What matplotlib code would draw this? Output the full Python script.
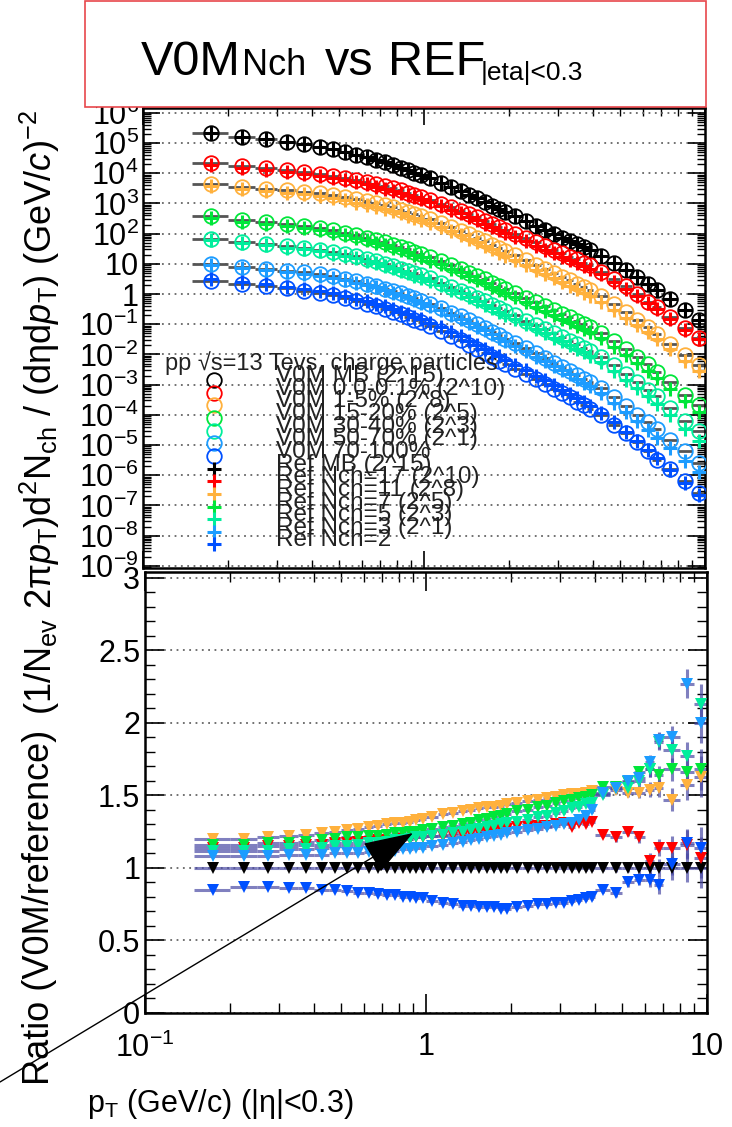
import numpy as np
import matplotlib
matplotlib.use('Agg')
import matplotlib.pyplot as plt
from matplotlib.patches import Rectangle, FancyArrowPatch
from matplotlib.ticker import LogLocator, NullFormatter, MultipleLocator

plt.rcParams['font.family'] = ['Liberation Sans', 'DejaVu Sans']
plt.rcParams['mathtext.fontset'] = 'custom'
plt.rcParams['mathtext.rm'] = 'Liberation Sans'
plt.rcParams['mathtext.it'] = 'Liberation Sans:italic'
plt.rcParams['mathtext.bf'] = 'Liberation Sans:bold'

# pT binning (GeV/c)
pt_edges = [0.15, 0.2, 0.25, 0.3, 0.35, 0.4, 0.45, 0.5, 0.55, 0.6, 0.65, 0.7, 0.75, 0.8,
            0.85, 0.9, 0.95, 1.0, 1.1, 1.2, 1.3, 1.4, 1.5, 1.6, 1.7, 1.8, 1.9, 2.0, 2.2,
            2.4, 2.6, 2.8, 3.0, 3.2, 3.4, 3.6, 3.8, 4.0, 4.5, 5.0, 5.5, 6.0, 6.5, 7.0,
            8.0, 9.0, 10.0]

# reference spectra, log10 of the scaled yield as drawn
ref_mb = [5.33, 5.21, 5.12, 5.04, 4.96, 4.88, 4.80, 4.71, 4.62, 4.53, 4.45, 4.36, 4.28, 4.19,
          4.11, 4.02, 3.94, 3.83, 3.69, 3.55, 3.42, 3.29, 3.17, 3.05, 2.93, 2.82, 2.71, 2.57,
          2.41, 2.26, 2.12, 1.99, 1.87, 1.76, 1.65, 1.55, 1.45, 1.27, 1.02, 0.78, 0.55, 0.33,
          0.12, -0.18, -0.54, -0.85]
ref_17 = [4.27, 4.17, 4.10, 4.04, 3.98, 3.91, 3.85, 3.77, 3.70, 3.63, 3.56, 3.49, 3.42, 3.35,
          3.28, 3.20, 3.14, 3.04, 2.91, 2.79, 2.67, 2.55, 2.44, 2.33, 2.22, 2.12, 2.02, 1.89,
          1.74, 1.60, 1.47, 1.35, 1.24, 1.13, 1.03, 0.93, 0.83, 0.65, 0.40, 0.16, -0.07, -0.29,
          -0.50, -0.81, -1.18, -1.50]
ref_11 = [3.57, 3.48, 3.41, 3.36, 3.30, 3.24, 3.18, 3.11, 3.03, 2.96, 2.89, 2.82, 2.75, 2.67,
          2.60, 2.52, 2.45, 2.35, 2.22, 2.08, 1.96, 1.83, 1.71, 1.60, 1.48, 1.37, 1.26, 1.12,
          0.96, 0.80, 0.66, 0.52, 0.40, 0.28, 0.16, 0.05, -0.06, -0.25, -0.52, -0.78, -1.03,
          -1.27, -1.50, -1.83, -2.22, -2.55]
ref_7 = [2.51, 2.40, 2.32, 2.25, 2.18, 2.11, 2.03, 1.95, 1.86, 1.78, 1.70, 1.62, 1.54, 1.46,
         1.38, 1.30, 1.22, 1.11, 0.98, 0.84, 0.72, 0.59, 0.47, 0.36, 0.24, 0.13, 0.03, -0.11,
         -0.27, -0.42, -0.56, -0.69, -0.81, -0.93, -1.05, -1.16, -1.27, -1.47, -1.75, -2.02,
         -2.29, -2.55, -2.79, -3.14, -3.55, -3.91]
ref_5 = [1.78, 1.68, 1.61, 1.54, 1.48, 1.41, 1.34, 1.26, 1.18, 1.09, 1.02, 0.93, 0.86, 0.77,
         0.70, 0.61, 0.54, 0.43, 0.29, 0.15, 0.02, -0.11, -0.23, -0.35, -0.47, -0.58, -0.69,
         -0.83, -1.00, -1.15, -1.30, -1.44, -1.57, -1.69, -1.81, -1.93, -2.04, -2.25, -2.55,
         -2.84, -3.12, -3.39, -3.65, -4.02, -4.46, -4.85]
ref_3 = [0.95, 0.86, 0.80, 0.74, 0.68, 0.61, 0.54, 0.46, 0.38, 0.29, 0.22, 0.13, 0.05, -0.03,
         -0.11, -0.20, -0.28, -0.39, -0.53, -0.68, -0.81, -0.95, -1.08, -1.20, -1.33, -1.45,
         -1.57, -1.72, -1.90, -2.07, -2.23, -2.38, -2.53, -2.66, -2.80, -2.93, -3.06, -3.29,
         -3.61, -3.92, -4.21, -4.49, -4.75, -5.11, -5.54, -5.90]
ref_2 = [0.51, 0.40, 0.32, 0.25, 0.18, 0.10, 0.03, -0.06, -0.15, -0.24, -0.32, -0.41, -0.49,
         -0.58, -0.66, -0.75, -0.83, -0.95, -1.10, -1.25, -1.40, -1.54, -1.68, -1.81, -1.94,
         -2.06, -2.18, -2.34, -2.52, -2.70, -2.86, -3.02, -3.17, -3.31, -3.45, -3.58, -3.70,
         -3.93, -4.25, -4.57, -4.87, -5.16, -5.43, -5.82, -6.27, -6.65]

# ratios V0M / reference
ratio_mb = [1.0] * 46
ratio_17 = [1.14, 1.14, 1.15, 1.15, 1.16, 1.16, 1.17, 1.17, 1.18, 1.18, 1.19, 1.19, 1.19, 1.20,
            1.20, 1.21, 1.21, 1.22, 1.22, 1.23, 1.23, 1.24, 1.25, 1.25, 1.26, 1.27, 1.27, 1.28,
            1.28, 1.29, 1.29, 1.30, 1.31, 1.28, 1.31, 1.30, 1.32, 1.23, 1.21, 1.25, 1.21, 1.05,
            1.14, 1.14, 1.16, 1.07]
ratio_11 = [1.20, 1.20, 1.21, 1.22, 1.23, 1.24, 1.25, 1.26, 1.27, 1.28, 1.29, 1.30, 1.31, 1.31,
            1.32, 1.33, 1.34, 1.35, 1.37, 1.38, 1.39, 1.40, 1.41, 1.42, 1.42, 1.43, 1.44, 1.45,
            1.46, 1.47, 1.48, 1.49, 1.50, 1.51, 1.51, 1.52, 1.53, 1.51, 1.54, 1.52, 1.52, 1.54,
            1.55, 1.47, 1.57, 1.63]
ratio_7 = [1.16, 1.16, 1.17, 1.17, 1.18, 1.19, 1.20, 1.21, 1.21, 1.22, 1.22, 1.23, 1.24, 1.24,
           1.25, 1.25, 1.26, 1.27, 1.28, 1.29, 1.30, 1.31, 1.33, 1.34, 1.35, 1.36, 1.37, 1.39,
           1.40, 1.42, 1.43, 1.45, 1.46, 1.47, 1.48, 1.49, 1.50, 1.56, 1.56, 1.59, 1.66, 1.68,
           1.64, 1.68, 1.66, 1.68]
ratio_5 = [1.12, 1.12, 1.12, 1.13, 1.13, 1.14, 1.15, 1.15, 1.16, 1.17, 1.17, 1.18, 1.19, 1.19,
           1.20, 1.21, 1.21, 1.22, 1.23, 1.24, 1.25, 1.26, 1.27, 1.28, 1.29, 1.30, 1.31, 1.32,
           1.33, 1.35, 1.36, 1.38, 1.39, 1.41, 1.42, 1.44, 1.45, 1.50, 1.55, 1.55, 1.60, 1.68,
           1.87, 1.81, 1.77, 2.13]
ratio_3 = [1.08, 1.08, 1.08, 1.09, 1.09, 1.09, 1.10, 1.10, 1.10, 1.11, 1.11, 1.12, 1.12, 1.13,
           1.13, 1.14, 1.14, 1.15, 1.16, 1.17, 1.18, 1.19, 1.20, 1.21, 1.22, 1.23, 1.24, 1.25,
           1.26, 1.27, 1.28, 1.29, 1.30, 1.31, 1.33, 1.36, 1.40, 1.52, 1.55, 1.60, 1.62, 1.73,
           1.88, 1.90, 2.27, 2.00]
ratio_2 = [0.85, 0.87, 0.87, 0.86, 0.86, 0.85, 0.85, 0.84, 0.83, 0.83, 0.82, 0.81, 0.81, 0.80,
           0.80, 0.79, 0.79, 0.77, 0.76, 0.75, 0.74, 0.74, 0.73, 0.73, 0.73, 0.72, 0.72, 0.73,
           0.74, 0.75, 0.75, 0.76, 0.76, 0.77, 0.78, 0.79, 0.80, 0.85, 0.83, 0.90, 0.92, 0.92,
           0.88, 1.03, 1.17, 1.14]
ratio_err = [0.01, 0.01, 0.01, 0.01, 0.01, 0.01, 0.01, 0.01, 0.01, 0.01, 0.01, 0.01, 0.01, 0.01,
             0.01, 0.01, 0.01, 0.01, 0.01, 0.01, 0.01, 0.01, 0.01, 0.01, 0.01, 0.01, 0.01, 0.01,
             0.01, 0.01, 0.01, 0.01, 0.015, 0.015, 0.015, 0.02, 0.02, 0.02, 0.03, 0.03, 0.04,
             0.05, 0.06, 0.08, 0.10, 0.14]

colors = ['#000000', '#ff0000', '#ffb13d', '#00e63a', '#00ee9c', '#1c9cff', '#0050ff']
refs = [ref_mb, ref_17, ref_11, ref_7, ref_5, ref_3, ref_2]
ratios = [ratio_mb, ratio_17, ratio_11, ratio_7, ratio_5, ratio_3, ratio_2]
v0m_labels = ['V0M MB (2^15)', 'V0M 0.0-0.1% (2^10)', 'V0M 1-5% (2^8)', 'V0M 15-20% (2^5)',
              'V0M 30-40% (2^3)', 'V0M 50-70% (2^1)', 'V0M 70-100%']
ref_labels = ['Ref MB (2^15)', 'Ref Nch=17 (2^10)', 'Ref Nch=11 (2^8)', 'Ref Nch=7 (2^5)',
              'Ref Nch=5 (2^3)', 'Ref Nch=3 (2^1)', 'Ref Nch=2']

edges = np.array(pt_edges)
pt = 0.5 * (edges[:-1] + edges[1:])
xerr = [pt - edges[:-1], edges[1:] - pt]

W, H = 732, 1127
fig = plt.figure(figsize=(W / 100, H / 100), dpi=100)


def box(l, t, r, b):
    return [l / W, 1 - b / H, (r - l) / W, (b - t) / H]


ax1 = fig.add_axes(box(143, 108, 705, 568))
ax2 = fig.add_axes(box(145, 572, 707, 1013))

# spectra
for ref, rat, c in zip(refs, ratios, colors):
    yref = 10.0 ** np.array(ref)
    yv0m = yref * np.array(rat)
    ax1.errorbar(pt, yv0m, xerr=xerr, fmt='none', ecolor='#555555', elinewidth=2, zorder=2)
    ax1.plot(pt, yv0m, 'o', mfc='none', mec=c, ms=10.5, mew=1.3, zorder=3)
for ref, c in zip(refs, colors):
    yref = 10.0 ** np.array(ref)
    ax1.plot(pt, yref, '+', color=c, ms=10, mew=2.2, zorder=4)

ax1.set_xscale('log')
ax1.set_yscale('log')
ax1.set_xlim(0.1, 10)
ax1.set_ylim(10 ** -9.07, 10 ** 6.16)
ydec = list(range(-9, 7))
ylabs = []
for k in ydec:
    if k == 0:
        ylabs.append('1')
    elif k == 1:
        ylabs.append('10')
    else:
        ylabs.append(r'$10^{%d}$' % k)
ax1.set_yticks([10.0 ** k for k in ydec])
ax1.set_yticklabels(ylabs)
ax1.yaxis.set_minor_locator(LogLocator(base=10, subs=np.arange(2, 10), numticks=100))
ax1.yaxis.set_minor_formatter(NullFormatter())
ax1.tick_params(which='both', direction='in', top=True, right=True, labelbottom=False)
ax1.tick_params(which='major', length=12, width=1.2, labelsize=22, pad=3)
ax1.tick_params(which='minor', length=6, width=1)
ax1.grid(axis='y', which='major', ls=(0, (1, 2.5)), color='#666666', lw=1.3)
ax1.set_axisbelow(True)

# legend drawn by hand, ROOT style
def ay(ypx):
    return (568 - ypx) / 460

ax1.text((165 - 143) / 562, ay(363), 'pp √s=13 Tevs, charge particles', fontsize=17,
         color='#222222', transform=ax1.transAxes, va='center', ha='left')
labels = v0m_labels + ref_labels
for i, lab in enumerate(labels):
    yp = 380 + 12.65 * i
    c = colors[i % 7]
    if i < 7:
        ax1.plot([(214 - 143) / 562], [ay(yp)], 'o', mfc='none', mec=c, ms=10.5, mew=1.3,
                 transform=ax1.transAxes, clip_on=False, zorder=5)
    else:
        ax1.plot([(214 - 143) / 562], [ay(yp)], '+', color=c, ms=10, mew=2.2,
                 transform=ax1.transAxes, clip_on=False, zorder=5)
    ax1.text((276 - 143) / 562, ay(yp - 4), lab, fontsize=17.5, color='#222222',
             transform=ax1.transAxes, va='center', ha='left', zorder=5)

# ratios
for rat, c in zip(ratios, colors):
    ax2.errorbar(pt, rat, xerr=xerr, yerr=ratio_err, fmt='none', ecolor='#4b4ba5',
                 elinewidth=2.2, alpha=0.7, zorder=2)
for rat, c in zip(ratios, colors):
    ax2.plot(pt, rat, 'v', color=c, ms=8.5, mew=0, zorder=3)

ax2.set_xscale('log')
ax2.set_xlim(0.1, 10)
ax2.set_ylim(0, 3.04)
ax2.set_xticks([0.1, 1, 10])
ax2.set_xticklabels([r'$10^{-1}$', '1', '10'])
ax2.set_yticks([0, 0.5, 1, 1.5, 2, 2.5, 3])
ax2.set_yticklabels(['0', '0.5', '1', '1.5', '2', '2.5', '3'])
ax2.yaxis.set_minor_locator(MultipleLocator(0.1))
ax2.tick_params(which='both', direction='in', top=True, right=True)
ax2.tick_params(which='major', length=14, width=1.2, labelsize=22)
ax2.tick_params(axis='x', which='major', pad=14)
ax2.tick_params(which='minor', length=7, width=1)
ax2.grid(axis='y', which='major', ls=(0, (1, 2.5)), color='#666666', lw=1.3)
ax2.set_axisbelow(True)

for ax in (ax1, ax2):
    for s in ax.spines.values():
        s.set_linewidth(1.8)

# axis titles
fig.text(40 / W, 1 - 1085 / H, 'Ratio (V0M/reference)', rotation=90, ha='center',
         va='bottom', fontsize=26)
fig.text(40 / W, 1 - 110 / H,
         r'(1/N$_{\mathrm{ev}}$ 2π$\mathit{p}_{\mathrm{T}}$)d$^{2}$N$_{\mathrm{ch}}$ / '
         r'(dηd$\mathit{p}_{\mathrm{T}}$) (GeV/$\mathit{c}$)$^{-2}$',
         rotation=90, ha='center', va='top', fontsize=26)
fig.text(87 / W, 1 - 1112 / H, r'p$_{\mathrm{T}}$ (GeV/c) (|η|<0.3)', fontsize=22,
         ha='left', va='baseline')

# title box
fig.add_artist(Rectangle((85 / W, 1 - 107 / H), 621 / W, 106 / H, transform=fig.transFigure,
                         facecolor='white', edgecolor='#e8474c', lw=1.2, zorder=5))
fig.text(141 / W, 1 - 75 / H, 'V0M', fontsize=35, va='baseline', zorder=6)
fig.text(242 / W, 1 - 75 / H, 'Nch', fontsize=26, va='baseline', zorder=6)
fig.text(325 / W, 1 - 75 / H, 'vs', fontsize=35, va='baseline', zorder=6)
fig.text(388 / W, 1 - 75 / H, 'REF', fontsize=35, va='baseline', zorder=6)
fig.text(481 / W, 1 - 80 / H, '|eta|<0.3', fontsize=19, va='baseline', zorder=6)

# arrow
fig.add_artist(FancyArrowPatch((0, 1 - 1082 / H), (413 / W, 1 - 833 / H),
                               transform=fig.transFigure,
                               arrowstyle='-|>,head_length=1.6,head_width=0.55',
                               mutation_scale=20, color='k', lw=1, shrinkA=0, shrinkB=0,
                               zorder=10))

fig.savefig('out.png', dpi=100)
